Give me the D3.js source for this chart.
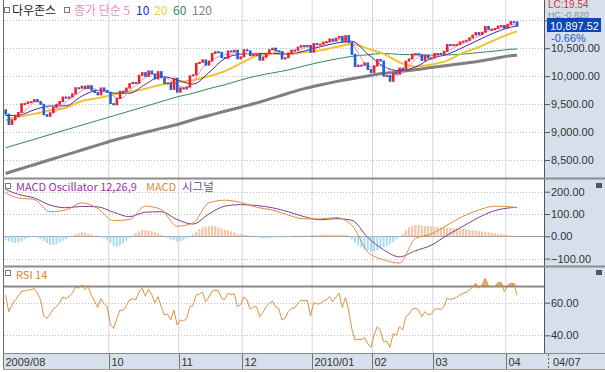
<!DOCTYPE html>
<html>
<head>
<meta charset="utf-8">
<script src="https://cdn.jsdelivr.net/npm/d3@7"></script>
<style>
html, body { margin: 0; padding: 0; background: #fff; }
svg { display: block; font-family: "Noto Sans CJK KR", "DejaVu Sans", sans-serif; }
</style>
</head>
<body>
<svg id="chart" width="605" height="372"></svg>
<script>
// 종가 (2009/08/14 ~ 2010/04/07), one per trading day
const closes = [
  9321, 9135, 9218, 9279, 9350, 9506, 9509, 9539, 9544, 9581,
  9544, 9496, 9311, 9281, 9345, 9441, 9497, 9547, 9627, 9605,
  9627, 9683, 9792, 9784, 9820, 9779, 9830, 9749, 9707, 9665,
  9789, 9742, 9712, 9509, 9488, 9600, 9731, 9726, 9787, 9865,
  9886, 9871, 10016, 10063, 9996, 10092, 10041, 9949, 10081, 9972,
  9868, 9882, 9763, 9963, 9713, 9789, 9772, 9802, 10006, 10023,
  10227, 10247, 10291, 10197, 10270, 10407, 10437, 10426, 10332, 10318,
  10451, 10434, 10464, 10310, 10345, 10472, 10453, 10366, 10389, 10390,
  10286, 10337, 10406, 10472, 10501, 10452, 10441, 10308, 10329, 10414,
  10465, 10466, 10520, 10547, 10545, 10549, 10428, 10584, 10572, 10574,
  10607, 10618, 10664, 10627, 10681, 10711, 10610, 10725, 10603, 10390,
  10173, 10197, 10194, 10236, 10120, 10067, 10186, 10297, 10271, 10002,
  10012, 9908, 10059, 10038, 10144, 10099, 10269, 10309, 10393, 10402,
  10383, 10282, 10374, 10321, 10325, 10404, 10406, 10397, 10444, 10566,
  10553, 10564, 10567, 10612, 10625, 10642, 10686, 10734, 10779, 10742,
  10786, 10889, 10836, 10841, 10850, 10896, 10907, 10857, 10927, 10974,
  10970, 10897.52
];
const firstOpen = 9398;

// moving averages at these bar positions
const maIdx = [0, 4, 9, 14, 19, 24, 29, 34, 39, 44, 49, 54, 59, 64, 69, 74, 79, 84, 89, 94,
  99, 104, 109, 114, 119, 124, 129, 134, 139, 144, 149, 154, 159, 161];
const ma10 = [9295, 9300, 9398, 9466, 9469, 9642, 9744, 9697, 9695, 9854, 9997, 9932, 9858, 10062,
  10315, 10392, 10407, 10407, 10395, 10449, 10525, 10590, 10624, 10396, 10174, 10098, 10163, 10316,
  10390, 10514, 10650, 10779, 10876, 10896];
const ma20 = [9210, 9270, 9325, 9385, 9434, 9554, 9607, 9670, 9719, 9776, 9846, 9893, 9927, 9997,
  10087, 10227, 10361, 10400, 10401, 10428, 10460, 10520, 10574, 10493, 10399, 10247, 10169, 10207,
  10277, 10415, 10520, 10646, 10763, 10801];
const ma60 = [8718, 8786, 8870, 8955, 9039, 9123, 9207, 9291, 9375, 9459, 9545, 9629, 9694, 9776,
  9846, 9930, 10003, 10058, 10111, 10183, 10250, 10306, 10354, 10383, 10407, 10389, 10381, 10376,
  10379, 10394, 10421, 10449, 10480, 10486];
const ma120 = [8259, 8330, 8416, 8504, 8591, 8679, 8766, 8854, 8925, 8995, 9066, 9134, 9220, 9295,
  9371, 9445, 9521, 9607, 9695, 9777, 9843, 9902, 9955, 10004, 10050, 10082, 10114, 10153,
  10191, 10226, 10266, 10316, 10365, 10372];

// MACD 12,26,9
const macdLine = [195, 172, 165, 110, 118, 150, 125, 70, 75, 135, 120, 45, 60, 150, 162, 152, 130,
  118, 95, 78, 78, 84, 50, -70, -105, -120, -10, 10, 50, 90, 118, 135, 132, 128];
const signalLine = [210, 188, 172, 140, 128, 134, 132, 108, 88, 108, 110, 75, 55, 100, 135, 142, 138,
  128, 110, 88, 74, 79, 72, -5, -60, -92, -65, -40, 5, 45, 85, 115, 128, 130];
const oscillator = [
  -18, -24, -28, -30, -28, -22, -14, -8, -4, -2,
  -6, -12, -20, -30, -38, -40, -36, -28, -20, -12,
  -5, 2, 8, 14, 18, 16, 12, 8, 4, 0,
  -4, -10, -18, -30, -42, -47, -42, -32, -20, -8,
  4, 14, 22, 28, 28, 26, 24, 18, 14, 8,
  0, -8, -14, -18, -24, -22, -18, -10, -2, 8,
  20, 32, 40, 44, 46, 47, 45, 40, 34, 30,
  26, 22, 18, 12, 10, 8, 6, 4, 0, -4,
  -8, -10, -10, -8, -6, -4, -4, -6, -6, -4,
  -2, 0, 2, 3, 4, 4, 4, 6, 6, 7,
  7, 8, 8, 8, 8, 8, 7, 6, 0, -14,
  -28, -40, -50, -58, -65, -69, -68, -62, -55, -50,
  -44, -36, -26, -14, -4, 10, 26, 40, 48, 51,
  50, 48, 46, 45, 44, 43, 42, 40, 39, 38,
  37, 36, 35, 34, 32, 31, 30, 28, 26, 24,
  22, 20, 18, 16, 14, 12, 10, 8, 6, 4,
  2, 0
];

// RSI 14
const rsi14 = [
  64.7, 54.5, 58.6, 61.5, 64, 67, 67.2, 67.8, 67.9, 68.8,
  66, 62, 52, 50.4, 53, 56, 57.5, 60, 63.5, 62.5,
  64, 65.8, 69.5, 69, 70.9, 68, 69.8, 64.5, 61, 57,
  62.5, 59.5, 57.5, 46.5, 44.3, 50, 55.5, 55.2, 58, 61.7,
  62.5, 61.8, 66.5, 68.8, 64, 68.2, 65, 60, 63.7, 57.5,
  52.5, 53, 49.5, 55.5, 46.3, 49.4, 48.8, 50.3, 57.5, 58.3,
  64.7, 65.3, 66.5, 60.6, 63.5, 67, 67.7, 67.2, 62.7, 62,
  65.8, 65, 65.5, 57.5, 58.8, 63.5, 61.7, 56, 57.5, 57.5,
  51.4, 54, 57.5, 59.6, 61, 57.5, 56.5, 49.4, 50.5, 54.5,
  56.6, 56.7, 59.5, 61.5, 61.2, 61.3, 51.8, 60, 59.2, 59.4,
  61, 61.7, 63.7, 60.5, 63.5, 65.8, 57, 63.3, 55.5, 44,
  37.1, 37.5, 37.3, 38.5, 35, 32.6, 40, 45.3, 43, 36,
  36.5, 32.6, 41, 40, 45.3, 43.3, 51.4, 53, 56, 56.6,
  55.5, 51.4, 54.5, 52.5, 53, 56, 56.3, 55.8, 57.5, 62.7,
  62, 62.5, 63.3, 64.5, 65.8, 66.3, 67.8, 69.5, 71.9, 68.8,
  71, 75, 70.5, 69.5, 70, 72.3, 72.5, 66.7, 70.5, 71.9,
  71.9, 64.7
];

const monthStart = [0, 33, 55, 75, 97, 116, 135, 158];
const monthLabels = ["2009/08", "10", "11", "12", "2010/01", "02", "03", "04"];
const lastDate = "04/07";
const priceTicks = [8500, 9000, 9500, 10000, 10500, 11000];
const macdTicks = [-100, 0, 100, 200];
const rsiTicks = [40, 60];

const svg = d3.select("#chart");
const W = 605, H = 372;
const plotL = 4, plotR = 544;
const pPrice = {top: 1, bottom: 177};
const pMacd = {top: 180, bottom: 265};
const pRsi = {top: 268, bottom: 352};

const x = d3.scaleLinear().domain([-0.5, 169.5]).range([plotL, plotR]);
const yP = d3.scaleLinear().domain([8500, 10500]).range([160, 48.2]);
const yM = d3.scaleLinear().domain([-100, 200]).range([258.6, 191.7]);
const yR = d3.scaleLinear().domain([40, 60]).range([335.3, 302.7]);

const axisBlue = "#d6e0ec";
svg.append("rect").attr("width", W).attr("height", H).attr("fill", "#fff");
svg.append("rect").attr("x", 545).attr("y", 0).attr("width", 60).attr("height", 370).attr("fill", axisBlue);
svg.append("rect").attr("x", 3).attr("y", 353).attr("width", 602).attr("height", 17).attr("fill", axisBlue);

const defs = svg.append("defs");
[["cp", pPrice], ["cm", pMacd], ["cr", pRsi]].forEach(([id, p]) => {
  defs.append("clipPath").attr("id", id).append("rect")
    .attr("x", plotL).attr("y", p.top).attr("width", plotR - plotL).attr("height", p.bottom - p.top);
});

// grid
const grid = svg.append("g");
monthStart.slice(1).forEach(i => {
  grid.append("line").attr("x1", x(i - 0.5)).attr("x2", x(i - 0.5))
    .attr("y1", 0).attr("y2", 353).attr("stroke", "#d4d4e2");
});
const hline = (y, color, dash, w) => grid.append("line")
  .attr("x1", plotL).attr("x2", plotR).attr("y1", y).attr("y2", y)
  .attr("stroke", color).attr("stroke-width", w || 1).attr("stroke-dasharray", dash || null);
priceTicks.forEach(v => hline(Math.round(yP(v)) + 0.5, "#bbb", "1,2"));
macdTicks.forEach(v => v === 0 ? hline(Math.round(yM(v)) + 0.5, "#9a9a9a") : hline(Math.round(yM(v)) + 0.5, "#bbb", "1,2"));
rsiTicks.forEach(v => hline(Math.round(yR(v)) + 0.5, "#bbb", "1,2"));

// price panel
const gP = svg.append("g").attr("clip-path", "url(#cp)");
const maLine = yScale => d3.line().x(d => x(d[0])).y(d => yScale(d[1])).curve(d3.curveMonotoneX);
const pairs = arr => maIdx.map((i, k) => [i, arr[k]]);

gP.append("path").datum(pairs(ma120)).attr("d", maLine(yP))
  .attr("fill", "none").attr("stroke", "#808080").attr("stroke-width", 3);
gP.append("path").datum(pairs(ma60)).attr("d", maLine(yP))
  .attr("fill", "none").attr("stroke", "#2e8b57").attr("stroke-width", 1);
gP.append("path").datum(pairs(ma20)).attr("d", maLine(yP))
  .attr("fill", "none").attr("stroke", "#f2c230").attr("stroke-width", 2);
gP.append("path").datum(pairs(ma10)).attr("d", maLine(yP))
  .attr("fill", "none").attr("stroke", "#3a2a9a").attr("stroke-width", 1);

const ma5 = closes.map((c, i) => i < 4 ? null : [i, d3.mean(closes.slice(i - 4, i + 1))]).filter(d => d);
gP.append("path").datum(ma5).attr("d", d3.line().x(d => x(d[0])).y(d => yP(d[1])))
  .attr("fill", "none").attr("stroke", "#e58fcf").attr("stroke-width", 1);

const openOf = i => i ? closes[i - 1] : firstOpen;
gP.selectAll("rect.candle").data(closes).enter().append("rect")
  .attr("class", "candle")
  .attr("x", (d, i) => x(i) - 1.2)
  .attr("width", 2.6)
  .attr("y", (d, i) => yP(Math.max(d, openOf(i))) - 0.5)
  .attr("height", (d, i) => Math.max(2, Math.abs(yP(d) - yP(openOf(i))) + 1))
  .attr("fill", (d, i) => d >= openOf(i) ? "#f0202a" : "#1d5fd9");

// MACD panel
const gM = svg.append("g").attr("clip-path", "url(#cm)");
gM.selectAll("rect.osc").data(oscillator).enter().append("rect")
  .attr("class", "osc")
  .attr("x", (d, i) => x(i) - 1)
  .attr("width", 2)
  .attr("y", d => Math.min(yM(d), yM(0)))
  .attr("height", d => Math.abs(yM(d) - yM(0)))
  .attr("fill", d => d >= 0 ? "#f3c2a2" : "#a9dbf2");
gM.append("path").datum(pairs(signalLine)).attr("d", maLine(yM))
  .attr("fill", "none").attr("stroke", "#7b3f8f").attr("stroke-width", 1);
gM.append("path").datum(pairs(macdLine)).attr("d", maLine(yM))
  .attr("fill", "none").attr("stroke", "#e08a40").attr("stroke-width", 1);

// RSI panel
const gR = svg.append("g").attr("clip-path", "url(#cr)");
gR.append("path").datum(rsi14)
  .attr("d", d3.area().x((d, i) => x(i)).y0(yR(70)).y1(d => yR(Math.max(d, 70))))
  .attr("fill", "#f2a860");
gR.append("line").attr("x1", plotL).attr("x2", plotR).attr("y1", yR(70)).attr("y2", yR(70))
  .attr("stroke", "#8a8a8a").attr("stroke-width", 2);
gR.append("path").datum(rsi14)
  .attr("d", d3.line().x((d, i) => x(i)).y(d => yR(d)))
  .attr("fill", "none").attr("stroke", "#e0913c").attr("stroke-width", 1);

// frame
svg.append("line").attr("x1", 3.5).attr("x2", 3.5).attr("y1", 0).attr("y2", 370).attr("stroke", "#6a6a6a");
svg.append("line").attr("x1", 544.5).attr("x2", 544.5).attr("y1", 0).attr("y2", 353).attr("stroke", "#555");
[178.5, 266.5].forEach(y => svg.append("line").attr("x1", 3).attr("x2", W).attr("y1", y).attr("y2", y)
  .attr("stroke", "#8c8c8c").attr("stroke-width", 2));
svg.append("line").attr("x1", 3).attr("x2", W).attr("y1", 353.5).attr("y2", 353.5).attr("stroke", "#8a8a8a");
svg.append("line").attr("x1", 3).attr("x2", W).attr("y1", 369.5).attr("y2", 369.5).attr("stroke", "#a0a0a0");

// right axes
const fmt = d3.format(",.2f");
const drawAxis = (scale, major, minor, hideLabel) => {
  const g = svg.append("g").attr("transform", "translate(545,0)");
  g.call(d3.axisRight(scale).tickValues(minor).tickSize(2).tickFormat(""));
  g.call(d3.axisRight(scale).tickValues(major).tickSize(5).tickPadding(1)
    .tickFormat(v => hideLabel && hideLabel(v) ? "" : fmt(v)));
  g.selectAll(".domain").remove();
  g.selectAll("line").attr("stroke", "#555");
  g.selectAll("text").attr("fill", "#333").style("font-family", "'Liberation Sans', sans-serif").style("font-size", "11px");
};
drawAxis(yP, priceTicks, d3.range(8200, 11400, 100), v => v === 11000);
drawAxis(yM, macdTicks, d3.range(-120, 240, 20));
drawAxis(yR, rsiTicks, d3.range(30, 82.5, 2.5));

// last price box
const small = "'Liberation Sans', sans-serif";
svg.append("text").attr("x", 548).attr("y", 8.2).attr("fill", "#e03030")
  .style("font-family", small).style("font-size", "10px").text("LC:19.54");
svg.append("text").attr("x", 548).attr("y", 18).attr("fill", "#8a8a8a")
  .style("font-family", small).style("font-size", "9px").text("HC:-0.820");
svg.append("rect").attr("x", 547).attr("y", 18).attr("width", 54).attr("height", 14).attr("fill", "#0b47b8");
svg.append("text").attr("x", 550).attr("y", 30).attr("fill", "#fff")
  .style("font-family", small).style("font-size", "11px").text(fmt(closes[closes.length - 1]));
svg.append("text").attr("x", 551).attr("y", 41.5).attr("fill", "#2a55c8")
  .style("font-family", small).style("font-size", "11px").text("-0.66%");

// panel icons
[186, 273].forEach(y => svg.append("rect").attr("x", 596).attr("y", y - 3).attr("width", 6).attr("height", 5)
  .attr("fill", "#555"));

// legends
const icon = (px, py) => svg.append("rect").attr("x", px).attr("y", py).attr("width", 5).attr("height", 5)
  .attr("fill", "#fff").attr("stroke", "#777");
const label = (px, py, txt, color, size) => svg.append("text").attr("x", px).attr("y", py)
  .attr("fill", color).style("font-size", (size || 12) + "px").text(txt);
icon(4.5, 7.5);
label(12, 15, "다우존스", "#222");
icon(64.5, 7.5);
label(74, 15, "종가 단순 5", "#e58fcf");
label(136, 15, "10", "#2a2aa8");
label(154, 15, "20", "#e8d040");
label(173, 15, "60", "#2e8b57");
label(192, 15, "120", "#808080");

icon(5.5, 183.5);
label(16, 191, "MACD Oscillator 12,26,9", "#a030a8", 11);
label(146, 191, "MACD", "#e08a40", 11);
label(182, 191, "시그널", "#7b3f8f", 11.5);

icon(5.5, 270.5);
label(16, 279, "RSI 14", "#d9822b", 11);

// date axis
const gD = svg.append("g");
monthStart.forEach((i, k) => {
  const px = i === 0 ? 3.5 : Math.round(x(i - 0.5)) + 0.5;
  gD.append("line").attr("x1", px).attr("x2", px).attr("y1", 354).attr("y2", 369).attr("stroke", "#777");
  gD.append("text").attr("x", px + 2).attr("y", 366).attr("fill", "#333")
    .style("font-family", small).style("font-size", "11px").text(monthLabels[k]);
});
gD.append("line").attr("x1", 548.5).attr("x2", 548.5).attr("y1", 354).attr("y2", 369)
  .attr("stroke", "#666").attr("stroke-dasharray", "2,2");
gD.append("text").attr("x", 553).attr("y", 366).attr("fill", "#333")
  .style("font-family", small).style("font-size", "11px").text(lastDate);
</script>
</body>
</html>
